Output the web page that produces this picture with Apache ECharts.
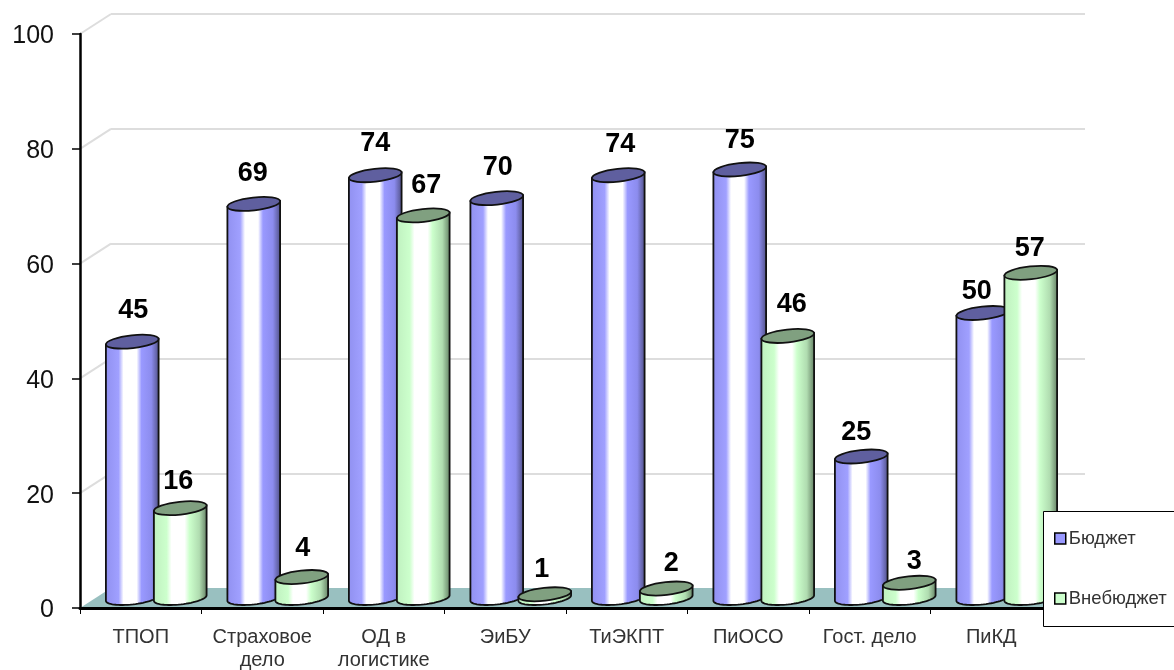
<!DOCTYPE html>
<html>
<head>
<meta charset="utf-8">
<style>html,body{margin:0;padding:0;background:#fff}#c{width:1174px;height:670px}</style>
<script src="https://cdn.jsdelivr.net/npm/echarts@6/dist/echarts.min.js"></script>
</head>
<body>
<div id="c"></div>
<script>
const categories = ['ТПОП', 'Страховое\nдело', 'ОД в\nлогистике', 'ЭиБУ', 'ТиЭКПТ', 'ПиОСО', 'Гост. дело', 'ПиКД'];
const budget = [45, 69, 74, 70, 74, 75, 25, 50];
const offBudget = [16, 4, 67, 1, 2, 46, 3, 57];
const yTicks = [20, 40, 60, 80, 100];
const nameA = 'Бюджет';
const nameB = 'Внебюджет';

// hand placement of the value labels, relative to each cylinder's top
const labelNudgeA = [[0,-1],[-2,0],[-1,-2],[0,-1],[1,-1],[-1,1],[-6,6],[-7,9]];
const labelNudgeB = [[-1,3],[2,2],[4,0],[-2,5],[6,5],[5,-1],[6,9],[0,6]];

const FONT = '"Liberation Sans", Arial, sans-serif';
const DEPTH_X = 31, DEPTH_Y = 20;
const RX_FRAC = 26.5 / 121.5, OFF_FRAC = 24 / 121.5, RY = 6.4, TILT = 0.11, BASE_LIFT = 2;

const chart = echarts.init(document.getElementById('c'), null, {renderer: 'canvas'});

const blueFill = {type: 'linear', x: 0, y: 0, x2: 1, y2: 0, colorStops: [
  {offset: 0, color: '#9090f0'}, {offset: 0.25, color: '#a0a0ff'}, {offset: 0.34, color: '#ffffff'},
  {offset: 0.58, color: '#ffffff'}, {offset: 0.67, color: '#9999ff'}, {offset: 0.85, color: '#8c8cee'}, {offset: 1, color: '#4d4d80'}
]};
const greenFill = {type: 'linear', x: 0, y: 0, x2: 1, y2: 0, colorStops: [
  {offset: 0, color: '#bff0bf'}, {offset: 0.25, color: '#ccffcc'}, {offset: 0.34, color: '#ffffff'},
  {offset: 0.58, color: '#ffffff'}, {offset: 0.67, color: '#ccffcc'}, {offset: 0.85, color: '#b0dcb0'}, {offset: 1, color: '#5f7a5f'}
]};

function cylinder(side, fill, topColor, nudge) {
  return function (params, api) {
    const cat = api.value(0), val = api.value(1);
    const top = api.coord([cat, val]);
    const base = api.coord([cat, 0]);
    const band = api.size([1, 0])[0];
    const cx = top[0] + side * band * OFF_FRAC;
    const rx = band * RX_FRAC;
    const cos = Math.cos(TILT), sin = Math.sin(TILT);
    const pts = [];
    pts.push([cx - rx * cos, top[1] + rx * sin]);
    pts.push([cx + rx * cos, top[1] - rx * sin]);
    for (let i = 0; i <= 32; i++) {
      const t = Math.PI * i / 32;
      const ex = rx * Math.cos(t), ey = RY * Math.sin(t);
      pts.push([cx + ex * cos + ey * sin, base[1] - BASE_LIFT - ex * sin + ey * cos]);
    }
    const n = nudge[params.dataIndex];
    return {
      type: 'group',
      children: [
        {type: 'polygon', shape: {points: pts}, style: {fill: fill, stroke: '#111', lineWidth: 1.8}},
        {type: 'ellipse', x: cx, y: top[1], rotation: TILT,
         shape: {cx: 0, cy: 0, rx: rx, ry: RY},
         style: {fill: topColor, stroke: '#111', lineWidth: 1.8}},
        {type: 'text', z2: 50, style: {x: cx - side + n[0], y: top[1] - 30 + n[1], text: String(val), align: 'center', verticalAlign: 'middle',
          font: 'bold 27px ' + FONT, fill: '#000'}}
      ]
    };
  };
}

function wallRender(params, api) {
  const cs = params.coordSys;
  const children = [];
  if (params.dataIndex === 0) {
    const y0 = cs.y + cs.height;
    children.push({type: 'polygon', shape: {points: [
      [cs.x, y0], [cs.x + DEPTH_X, y0 - DEPTH_Y],
      [cs.x + cs.width + DEPTH_X, y0 - DEPTH_Y], [cs.x + cs.width, y0]
    ]}, style: {fill: '#99c0c0'}});
  }
  const p = api.coord([0, api.value(0)]);
  children.push({type: 'line', shape: {x1: cs.x, y1: p[1], x2: cs.x + DEPTH_X, y2: p[1] - DEPTH_Y},
    style: {stroke: '#dddddd', lineWidth: 2}});
  return {type: 'group', children};
}

chart.setOption({
  animation: false,
  backgroundColor: '#fff',
  grid: [
    {left: 80, top: 34, width: 972, height: 574, outerBoundsMode: 'none'},
    {left: 111, top: 14, width: 974, height: 575, outerBoundsMode: 'none'},
    {left: 95.5, top: 26, width: 972, height: 574, outerBoundsMode: 'none'}
  ],
  xAxis: [
    {gridIndex: 0, type: 'category', data: categories, z: 20,
     axisLine: {lineStyle: {color: '#000', width: 3}},
     axisTick: {show: true, alignWithLabel: false, length: 6, lineStyle: {color: '#000', width: 1}},
     axisLabel: {interval: 0, margin: 18, color: '#333', fontFamily: FONT, fontSize: 20, lineHeight: 23, verticalAlign: 'top', hideOverlap: false}},
    {gridIndex: 1, type: 'category', data: categories, show: false},
    {gridIndex: 2, type: 'category', data: categories, show: false}
  ],
  yAxis: [
    {gridIndex: 0, type: 'value', min: 0, max: 100, interval: 20, z: 20,
     axisLine: {show: true, lineStyle: {color: '#000', width: 2.5}},
     axisTick: {show: true, length: 8, lineStyle: {color: '#000', width: 1.5}},
     axisLabel: {margin: 26, formatter: v => '{a|' + v + '}',
       rich: {a: {color: '#111', fontFamily: FONT, fontSize: 25, padding: [5, 0, 0, 0]}}},
     splitLine: {show: false}},
    {gridIndex: 1, type: 'value', min: 0, max: 100, interval: 20,
     axisLine: {show: false}, axisTick: {show: false}, axisLabel: {show: false},
     splitLine: {show: true, lineStyle: {color: '#dddddd', width: 2}}},
    {gridIndex: 2, type: 'value', min: 0, max: 100, interval: 20, show: false}
  ],
  legend: {
    orient: 'vertical', left: 1049, top: 524, z: 31,
    itemWidth: 11, itemHeight: 11, itemGap: 41,
    textStyle: {color: '#333', fontFamily: FONT, fontSize: 18.5, padding: [0, 0, 0, -2]},
    data: [
      {name: nameA, icon: 'rect', itemStyle: {color: '#9999ff', borderColor: '#000', borderWidth: 1.5}},
      {name: nameB, icon: 'rect', itemStyle: {color: '#ccffcc', borderColor: '#000', borderWidth: 1.5}}
    ]
  },
  graphic: [{type: 'rect', z: 30, silent: true, shape: {x: 1043.5, y: 511.5, width: 140, height: 115},
    style: {fill: '#fff', stroke: '#000', lineWidth: 1}}],
  series: [
    {type: 'custom', name: 'wall', xAxisIndex: 0, yAxisIndex: 0, z: 1, silent: true, clip: false,
     data: yTicks.map(v => [v]), encode: {y: 0}, renderItem: wallRender},
    {type: 'custom', name: nameA, xAxisIndex: 2, yAxisIndex: 2, z: 3, clip: false,
     data: budget.map((v, i) => [i, v]), encode: {x: 0, y: 1},
     itemStyle: {color: '#9999ff'}, renderItem: cylinder(-1, blueFill, '#5f5f9f', labelNudgeA)},
    {type: 'custom', name: nameB, xAxisIndex: 2, yAxisIndex: 2, z: 4, clip: false,
     data: offBudget.map((v, i) => [i, v]), encode: {x: 0, y: 1},
     itemStyle: {color: '#ccffcc'}, renderItem: cylinder(1, greenFill, '#80a080', labelNudgeB)}
  ]
});
</script>
</body>
</html>
